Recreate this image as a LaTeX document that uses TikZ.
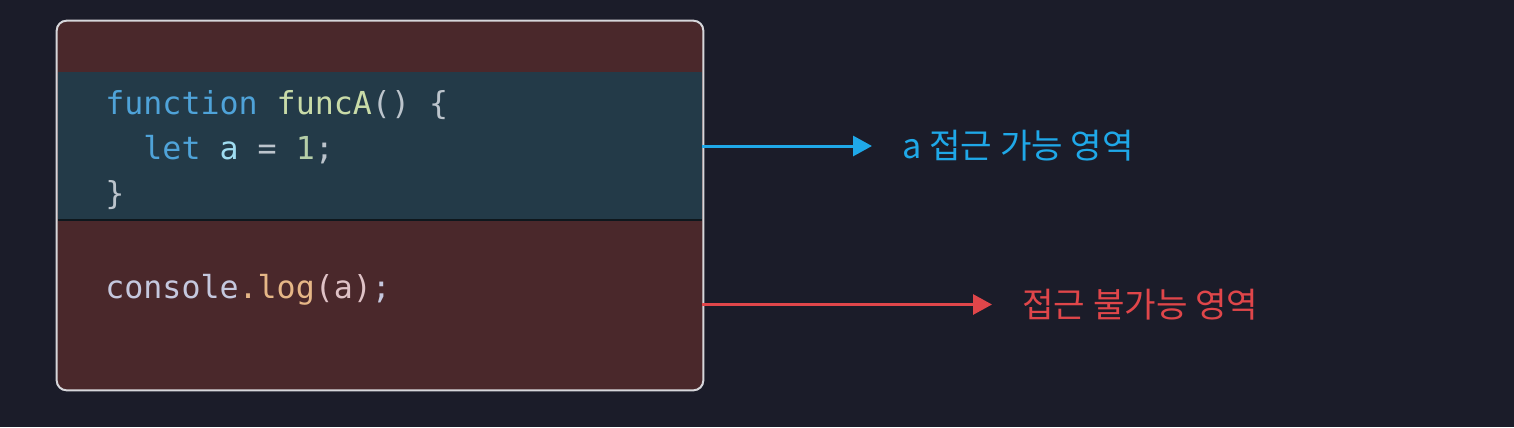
\documentclass[tikz,border=0pt]{standalone}
\usepackage{fontspec}
\newfontfamily\codefont{DejaVu Sans Mono}
\newfontfamily\krfont{Noto Sans CJK KR}
\usetikzlibrary{arrows.meta,positioning}

\definecolor{bgdark}{HTML}{1B1C29}
\definecolor{outerred}{HTML}{4A282B}
\definecolor{innerblue}{HTML}{233A48}
\definecolor{framegray}{HTML}{D6D6DA}
\definecolor{kwblue}{HTML}{4FA3D9}
\definecolor{fnname}{HTML}{C9DBA8}
\definecolor{punct}{HTML}{BCC4CC}
\definecolor{varcyan}{HTML}{9FDCF0}
\definecolor{numgreen}{HTML}{B5CEA8}
\definecolor{objgray}{HTML}{C5C8DE}
\definecolor{methodtan}{HTML}{E6B787}
\definecolor{argpink}{HTML}{DFC2C6}
\definecolor{okblue}{HTML}{1FA8E8}
\definecolor{nored}{HTML}{E0464A}

\begin{document}
\begin{tikzpicture}[
		codeline/.style={anchor=base west, inner sep=0pt, font=\codefont\fontsize{18}{22}\selectfont},
		label/.style={anchor=west, inner sep=0pt, font=\krfont\fontsize{19.5}{24}\selectfont},
		scopearrow/.style={-{Triangle[length=0.38cm, width=0.4cm]}, line width=0.06cm, shorten >=0.6cm}]
	% background and frame
	\fill[bgdark] (0,0) rectangle (30.28,-8.54);
	\node[fill=outerred, draw=none, rounded corners=0.2cm, minimum width=12.92cm, minimum height=7.38cm] (frame) at (7.6,-4.11) {};
	\node[fill=innerblue, inner sep=0pt, minimum width=12.88cm, minimum height=2.96cm] (band) at (7.6,-2.92) {};
	\node[inner sep=0pt, minimum width=12.88cm, minimum height=3.38cm] (lower) at (7.6,-6.09) {};
	\draw[black!60!innerblue, line width=0.04cm] (band.south west) -- (band.south east);
	\draw[framegray, line width=0.04cm, rounded corners=0.2cm] (frame.north west) rectangle (frame.south east);

	% code
	\node[codeline] (line1) at (2.1,-2.28) {\textcolor{kwblue}{function} \textcolor{fnname}{funcA}\textcolor{punct}{() \{}};
	\node[codeline] (line2) at (2.1,-3.18) {\phantom{xx}\textcolor{kwblue}{let} \textcolor{varcyan}{a} \textcolor{punct}{=} \textcolor{numgreen}{1}\textcolor{punct}{;}};
	\node[codeline] (line3) at (2.1,-4.08) {\textcolor{punct}{\}}};
	\node[codeline] (line4) at (2.1,-5.96) {\textcolor{objgray}{console}\textcolor{methodtan}{.log}\textcolor{argpink}{(a)}\textcolor{objgray}{;}};

	% labels
	\node[label, text=okblue] (oklabel) at (18.04,-2.92) {a 접근 가능 영역};
	\node[label, text=nored] (nolabel) at (20.44,-6.09) {접근 불가능 영역};

	\draw[scopearrow, okblue] (band.east) -- (oklabel.west);
	\draw[scopearrow, nored] (lower.east) -- (nolabel.west);
\end{tikzpicture}
\end{document}
